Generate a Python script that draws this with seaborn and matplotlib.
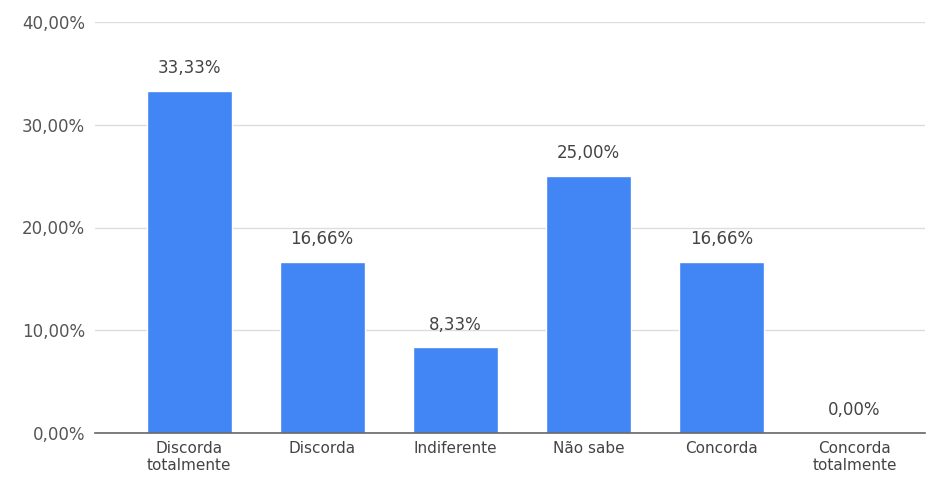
"""
Bar chart of agreement answers (percent of respondents)
"""

import pandas as pd
import seaborn as sns
import matplotlib.pyplot as plt
from matplotlib.ticker import FuncFormatter

sns.set_style('white')
plt.rcParams['font.family'] = ['DejaVu Sans']

categories = ['Discorda\ntotalmente', 'Discorda', 'Indiferente', 'Não sabe', 'Concorda', 'Concorda\ntotalmente']
values = [33.33, 16.66, 8.33, 25.00, 16.66, 0.00]
yticks = [0, 10, 20, 30, 40]

data = pd.DataFrame({'resposta': categories, 'pct': values})

fig = plt.figure(figsize=(9.32, 4.78), dpi=100)
ax = fig.add_axes([95 / 932, 1 - 433 / 478, (925 - 95) / 932, (433 - 22) / 478])

sns.barplot(data=data, x='resposta', y='pct', color='#4285f4', saturation=1, width=0.64, ax=ax, zorder=3)

ax.set_xlim(-0.707, 5.53)
ax.set_ylim(0, 40)
ax.set_yticks(yticks)
ax.yaxis.set_major_formatter(FuncFormatter(lambda v, p: '{:.2f}%'.format(v).replace('.', ',')))
ax.grid(axis='y', color='#dddddd', linewidth=1, zorder=0)
ax.grid(axis='x', visible=False)
for s in ['top', 'right', 'left']:
    ax.spines[s].set_visible(False)
ax.spines['bottom'].set_color('#666666')
ax.spines['bottom'].set_linewidth(1.2)
ax.spines['bottom'].set_zorder(4)

ax.tick_params(axis='y', length=0, pad=7, labelsize=12, labelcolor='#555555')
ax.tick_params(axis='x', length=0, pad=6, labelsize=11, labelcolor='#444444')
for lbl in ax.get_xticklabels():
    lbl.set_linespacing(1.12)
ax.set_xlabel('')
ax.set_ylabel('')

for i, v in enumerate(values):
    ax.annotate('{:.2f}%'.format(v).replace('.', ','), (i, v), xytext=(0, 10), textcoords='offset points',
                ha='center', va='bottom', fontsize=12, color='#444444')

fig.savefig('out.png', dpi=100)
